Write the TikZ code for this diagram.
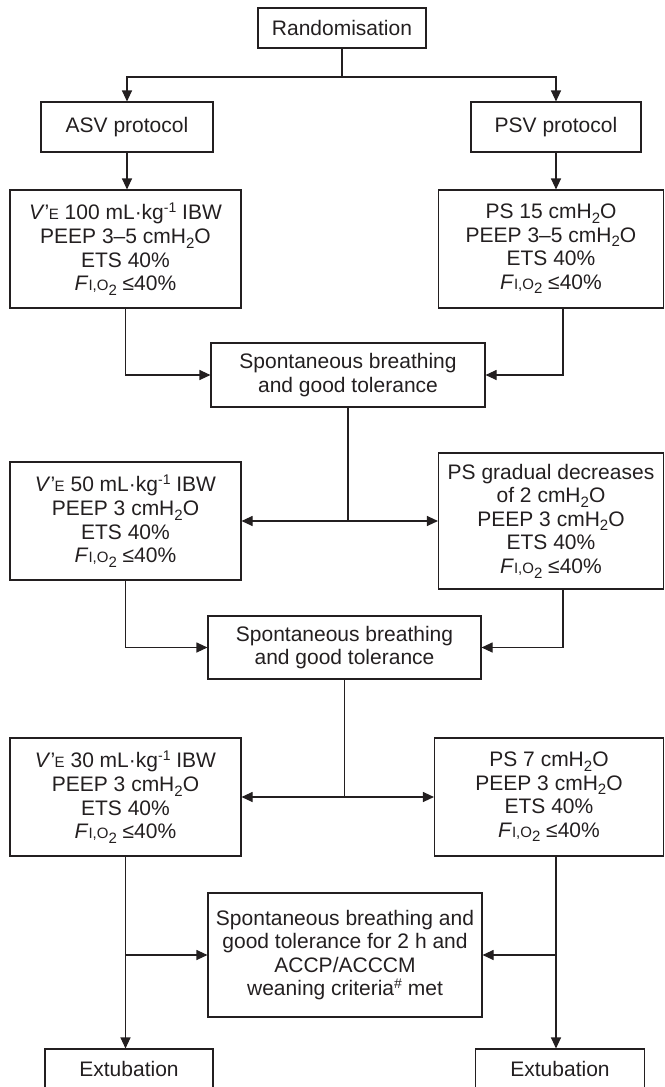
\documentclass[tikz,border=0pt]{standalone}
\usepackage{fontspec}
\setmainfont{Liberation Sans}
\usetikzlibrary{arrows.meta}

\definecolor{ink}{RGB}{35,31,32}
\newcommand{\lowsub}[1]{\raisebox{-4.5pt}{\fontsize{15}{15}\selectfont #1}}
\newcommand{\highsup}[1]{\raisebox{7.5pt}{\fontsize{14}{14}\selectfont #1}}
\newcommand{\vexp}{\textit{V}'\kern-0.5pt{\fontsize{15}{15}\selectfont E}}
\newcommand{\fiotwo}{\textit{F}{\fontsize{15}{15}\selectfont I,O}\lowsub{2}}
\newcommand{\water}{cmH\lowsub{2}O}

\tikzset{
  box/.style={draw=ink, align=center, inner sep=0pt},
  arr/.style={-{Triangle[length=11pt,width=10pt]}},
  dbl/.style={{Triangle[length=11pt,width=10pt]}-{Triangle[length=11pt,width=10pt]}},
}

\begin{document}
\begin{tikzpicture}[x=1pt,y=-1pt,line width=1.1pt,draw=ink,text=ink,
  font=\fontsize{21}{23.6}\selectfont]
  \useasboundingbox (0,0) rectangle (664,1087);

  \node[box,minimum width=168,minimum height=40] (rand) at (342,28) {Randomisation};
  \node[box,minimum width=172,minimum height=50] (asv) at (127,127) {ASV protocol};
  \node[box,minimum width=170,minimum height=50] (psv) at (556,127) {PSV protocol};

  \node[box,minimum width=231,minimum height=118] (asvA) at (125.5,249)
    {\vexp{} 100 mL·kg\highsup{-1} IBW\\PEEP 3–5 \water\\ETS 40\%\\\fiotwo{} ≤40\%};
  \node[box,minimum width=225,minimum height=118] (psvA) at (551,249)
    {PS 15 \water\\PEEP 3–5 \water\\ETS 40\%\\\fiotwo{} ≤40\%};
  \node[box,minimum width=274,minimum height=64] (spontA) at (348,375)
    {Spontaneous breathing\\and good tolerance};

  \node[box,minimum width=231,minimum height=118] (asvB) at (125.5,521)
    {\vexp{} 50 mL·kg\highsup{-1} IBW\\PEEP 3 \water\\ETS 40\%\\\fiotwo{} ≤40\%};
  \node[box,minimum width=225,minimum height=136] (psvB) at (551,521)
    {PS gradual decreases\\of 2 \water\\PEEP 3 \water\\ETS 40\%\\\fiotwo{} ≤40\%};
  \node[box,minimum width=273,minimum height=63] (spontB) at (344.5,647.5)
    {Spontaneous breathing\\and good tolerance};

  \node[box,minimum width=231,minimum height=118] (asvC) at (125.5,797)
    {\vexp{} 30 mL·kg\highsup{-1} IBW\\PEEP 3 \water\\ETS 40\%\\\fiotwo{} ≤40\%};
  \node[box,minimum width=229,minimum height=118] (psvC) at (549,797)
    {PS 7 \water\\PEEP 3 \water\\ETS 40\%\\\fiotwo{} ≤40\%};
  \node[box,minimum width=274,minimum height=124] (spontC) at (345,955)
    {Spontaneous breathing and\\good tolerance for 2 h and\\ACCP/ACCCM\\weaning criteria\highsup{\#} met};

  \node[box,minimum width=168,minimum height=40] (extA) at (129,1069) {Extubation};
  \node[box,minimum width=169,minimum height=40] (extB) at (560,1069) {Extubation};

  \coordinate (split) at (342,77);
  \coordinate (rightA) at ([xshift=12pt]psvA.south);
  \coordinate (rightB) at ([xshift=12pt]psvB.south);
  \coordinate (rightC) at ([xshift=7pt]psvC.south);

  \draw (rand) -- (split);
  \draw[arr] (split) -| (asv);
  \draw[arr] (split) -| (psv);
  \draw[arr] (asv) -- (asv |- asvA.north);
  \draw[arr] (psv) -- (psv |- psvA.north);

  \draw[arr] (asvA.south) |- (spontA);
  \draw[arr] (rightA) |- (spontA);
  \draw (spontA) -- (spontA |- asvB.east);
  \draw[dbl] (asvB) -- (psvB);

  \draw[arr] (asvB.south) |- (spontB);
  \draw[arr] (rightB) |- (spontB);
  \draw (spontB) -- (spontB |- asvC.east);
  \draw[dbl] (asvC) -- (psvC);

  \draw[arr] (asvC.south) -- (asvC.south |- extA.north);
  \draw[arr] (asvC.south |- spontC.west) -- (spontC);
  \draw[arr] (rightC) -- (rightC |- extB.north);
  \draw[arr] (rightC |- spontC.east) -- (spontC);
\end{tikzpicture}
\end{document}
